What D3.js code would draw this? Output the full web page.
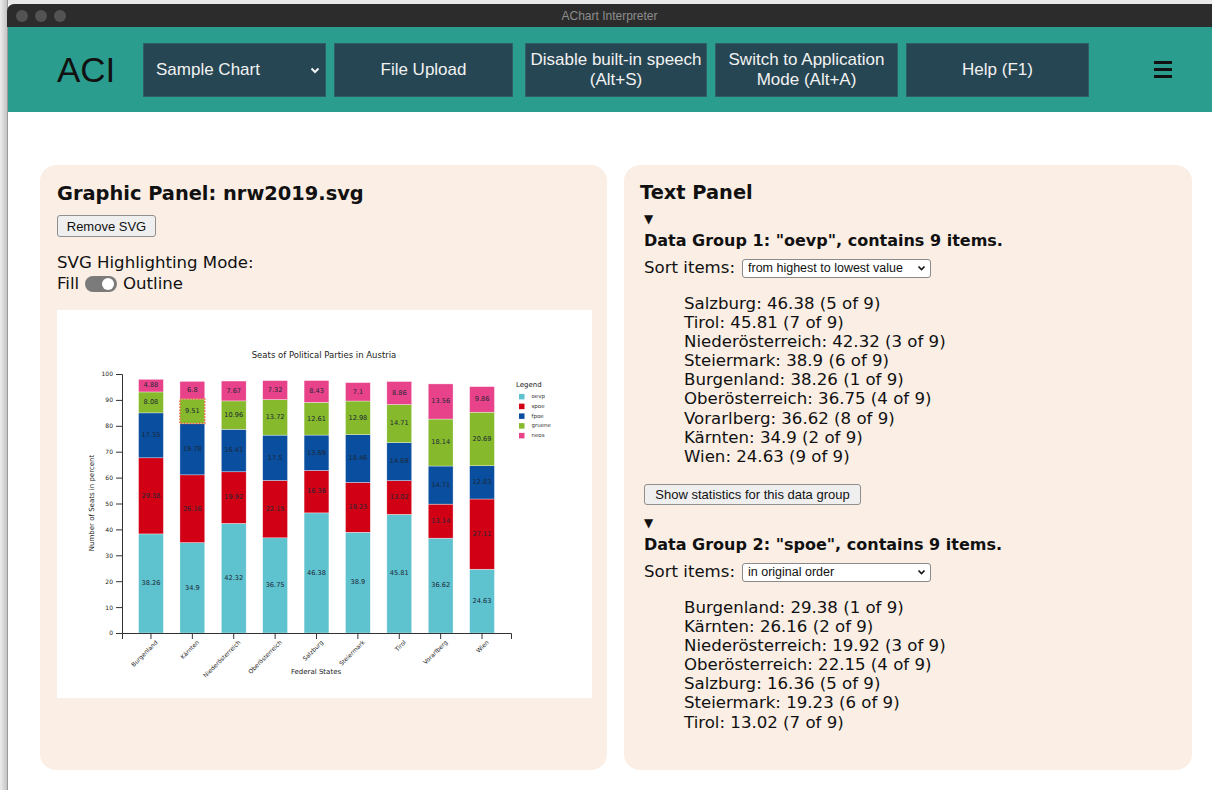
<!DOCTYPE html>
<html>
<head>
<meta charset="utf-8">
<script src="https://cdn.jsdelivr.net/npm/d3@7"></script>
<style>
  body { margin: 0; width: 1212px; height: 790px; position: relative; overflow: hidden; background: #fff; font-family: "DejaVu Sans", sans-serif; color: #111; }
  .abs { position: absolute; }
  #desk { left: 0; top: 0; width: 7px; height: 790px; background: linear-gradient(to right, #ececec, #c4c4c4); border-right: 1px solid #9a9a9a; }
  #desktop { left: 0; top: 0; width: 1212px; height: 4px; background: #e9e9e9; }
  #titlebar { left: 7px; top: 4px; width: 1205px; height: 23px; background: #2c2c2c; border-radius: 7px 0 0 0; }
  .dot { position: absolute; top: 6px; width: 12px; height: 12px; border-radius: 6px; background: #535353; }
  #wintitle { left: 7px; width: 1205px; top: 9px; height: 16px; line-height: 16px; text-align: center; color: #8d8d8d; font: 12px "Liberation Sans", sans-serif; }
  #header { left: 8px; top: 27px; width: 1204px; height: 85px; background: #2a9d8f; }
  #logo { left: 57px; top: 48px; font: 35px "Liberation Sans", sans-serif; color: #111; line-height: 44px; }
  .hbtn { position: absolute; top: 43px; height: 54px; background: #264653; border: 1px solid #2f5f6b; box-sizing: border-box; color: #f2f2f2; font: 17px "Liberation Sans", sans-serif; display: flex; align-items: center; justify-content: center; text-align: center; line-height: 20px; }
  .burger { position: absolute; left: 1154px; width: 18px; height: 3px; background: #111; }
  .panel { position: absolute; top: 165px; height: 605px; background: #faeee5; border-radius: 16px; }
  .line { position: absolute; white-space: nowrap; }
  .sysbtn { position: absolute; background: #efefef; border: 1px solid #8f8f8f; border-radius: 3px; box-sizing: border-box; font: 13px "Liberation Sans", sans-serif; display: flex; align-items: center; justify-content: center; color: #111; }
  .sel { position: absolute; background: #fff; border: 1px solid #8a8a8a; border-radius: 3px; box-sizing: border-box; font: 12.5px "Liberation Sans", sans-serif; padding-left: 5px; line-height: 17px; color: #111; }
  .chev { position: absolute; }
  #chartbox { position: absolute; left: 57px; top: 310px; width: 535px; height: 388px; background: #fff; }
  .list { position: absolute; left: 684px; font-size: 16.6px; line-height: 19.1px; }
</style>
</head>
<body>
<div id="desktop" class="abs"></div>
<div id="desk" class="abs"></div>
<div id="titlebar" class="abs">
  <div class="dot" style="left:9px"></div>
  <div class="dot" style="left:28px"></div>
  <div class="dot" style="left:47px"></div>
</div>
<div id="wintitle" class="abs">AChart Interpreter</div>
<div id="header" class="abs"></div>
<div id="logo" class="abs">ACI</div>
<div class="hbtn" style="left:143px;width:183px;justify-content:flex-start;padding-left:12px">Sample Chart
  <svg class="chev" style="right:5px;top:23px" width="10" height="8"><polyline points="1.5,1.5 5,5 8.5,1.5" fill="none" stroke="#f2f2f2" stroke-width="2"/></svg></div>
<div class="hbtn" style="left:334px;width:179px">File Upload</div>
<div class="hbtn" style="left:525px;width:182px">Disable built-in speech<br>(Alt+S)</div>
<div class="hbtn" style="left:715px;width:183px">Switch to Application<br>Mode (Alt+A)</div>
<div class="hbtn" style="left:906px;width:183px">Help (F1)</div>
<div class="burger" style="top:61px"></div>
<div class="burger" style="top:68px"></div>
<div class="burger" style="top:75px"></div>

<div class="panel" style="left:40px;width:567px"></div>
<div class="panel" style="left:624px;width:568px"></div>

<div class="line" style="left:57px;top:182px;font-size:19.4px;font-weight:bold;line-height:24px">Graphic Panel: nrw2019.svg</div>
<div class="sysbtn" style="left:57px;top:215px;width:99px;height:22px">Remove SVG</div>
<div class="line" style="left:57px;top:253px;font-size:16.6px;line-height:20px">SVG Highlighting Mode:</div>
<div class="line" style="left:57px;top:274px;font-size:16.6px;line-height:20px">Fill</div>
<div class="abs" style="left:85px;top:276px;width:32px;height:16px;border-radius:8px;background:#7b7b7b"></div>
<div class="abs" style="left:102px;top:278px;width:12px;height:12px;border-radius:6px;background:#fff"></div>
<div class="line" style="left:123px;top:274px;font-size:16.6px;line-height:20px">Outline</div>
<div id="chartbox"><svg id="chart" width="535" height="388"></svg></div>

<div id="textpanel"></div>

<script>
// ## DATA ##
const states = ['Burgenland', 'Kärnten', 'Niederösterreich', 'Oberösterreich', 'Salzburg', 'Steiermark', 'Tirol', 'Vorarlberg', 'Wien']
const parties = ['oevp', 'spoe', 'fpoe', 'gruene', 'neos']
const oevp = [38.26, 34.9, 42.32, 36.75, 46.38, 38.9, 45.81, 36.62, 24.63]
const spoe = [29.38, 26.16, 19.92, 22.15, 16.36, 19.23, 13.02, 13.14, 27.11]
const fpoe = [17.35, 19.78, 16.41, 17.5, 13.69, 18.46, 14.69, 14.71, 12.83]
const gruene = [8.08, 9.51, 10.96, 13.72, 12.61, 12.98, 14.71, 18.14, 20.69]
const neos = [4.88, 6.8, 7.67, 7.32, 8.43, 7.1, 8.86, 13.56, 9.86]
const yTicks = [0, 10, 20, 30, 40, 50, 60, 70, 80, 90, 100]
const partyColors = ['#5ec2cf', '#d10014', '#0a4e9f', '#86b92b', '#e8428a']

const series = { oevp, spoe, fpoe, gruene, neos }
const rows = states.map((state, i) => {
  const row = { state: state }
  parties.forEach(p => { row[p] = series[p][i] })
  return row
})

// ## CHART ##
const svg = d3.select('#chart')
const x = d3.scaleBand().domain(states).range([65, 454]).paddingInner(0.4).paddingOuter(0.4)
const y = d3.scaleLinear().domain([0, 100]).range([323, 64])
const color = d3.scaleOrdinal().domain(parties).range(partyColors)
const stacked = d3.stack().keys(parties)(rows)

svg.append('text')
  .attr('x', 267).attr('y', 48)
  .attr('text-anchor', 'middle')
  .style('font-size', '8.5px').style('fill', '#222')
  .text('Seats of Political Parties in Austria')

const layers = svg.selectAll('.layer').data(stacked)
  .enter().append('g')
  .attr('class', 'layer')
  .attr('fill', d => color(d.key))

layers.selectAll('rect').data(d => d)
  .enter().append('rect')
  .attr('x', d => x(d.data.state))
  .attr('y', d => y(d[1]))
  .attr('width', x.bandwidth())
  .attr('height', d => y(d[0]) - y(d[1]))
  .attr('stroke', '#fff').attr('stroke-width', 0.5).attr('stroke-opacity', 0.7)

layers.each(function(layer) {
  d3.select(this).selectAll('text').data(layer)
    .enter().append('text')
    .attr('x', d => x(d.data.state) + x.bandwidth() / 2)
    .attr('y', d => (y(d[0]) + y(d[1])) / 2)
    .attr('text-anchor', 'middle')
    .attr('dominant-baseline', 'middle')
    .style('font-size', '6.6px').style('fill', '#1b2836')
    .text(d => d.data[layer.key])
})

// highlighted element (outline mode)
const hl = stacked.find(s => s.key === 'gruene')[1]
svg.append('rect')
  .attr('x', x(hl.data.state))
  .attr('y', y(hl[1]))
  .attr('width', x.bandwidth())
  .attr('height', y(hl[0]) - y(hl[1]))
  .attr('fill', 'none')
  .attr('stroke', '#f0603c').attr('stroke-width', 1.5)
  .attr('stroke-dasharray', '1.5,1.5')

const yAxisGroup = svg.append('g')
  .attr('transform', 'translate(65,0)')
  .call(d3.axisLeft(y).tickValues(yTicks))
yAxisGroup.selectAll('text').style('font-size', '6px').style('font-family', 'DejaVu Sans').style('fill', '#222')
yAxisGroup.selectAll('path, line').attr('stroke', '#333')

const xAxisGroup = svg.append('g')
  .attr('transform', 'translate(0,323)')
  .call(d3.axisBottom(x))
xAxisGroup.selectAll('text')
  .style('font-size', '6px').style('font-family', 'DejaVu Sans').style('fill', '#222')
  .attr('text-anchor', 'end')
  .attr('dx', '-0.3em').attr('dy', '0.5em')
  .attr('transform', 'rotate(-45)')
xAxisGroup.selectAll('path, line').attr('stroke', '#333')

svg.append('text')
  .attr('transform', 'rotate(-90)')
  .attr('x', -193).attr('y', 37)
  .attr('text-anchor', 'middle')
  .style('font-size', '7px').style('fill', '#222')
  .text('Number of Seats in percent')

svg.append('text')
  .attr('x', 259).attr('y', 364)
  .attr('text-anchor', 'middle')
  .style('font-size', '7px').style('fill', '#222')
  .text('Federal States')

const legend = svg.append('g')
legend.append('text')
  .attr('x', 459).attr('y', 77)
  .style('font-size', '7px').style('fill', '#222')
  .text('Legend')
const legendItems = legend.selectAll('.item').data(parties)
  .enter().append('g')
  .attr('class', 'item')
  .attr('transform', (d, i) => 'translate(462,' + (86.7 + i * 9.75) + ')')
legendItems.append('rect')
  .attr('x', 0).attr('y', -2.8).attr('width', 5.5).attr('height', 5.5)
  .attr('fill', d => color(d))
legendItems.append('text')
  .attr('x', 12.5).attr('y', 0)
  .attr('dominant-baseline', 'middle')
  .style('font-size', '5.5px').style('fill', '#333')
  .text(d => d)

// ## TEXT PANEL ##
const tp = d3.select('#textpanel')
const addLine = (left, top, txt, style) => tp.append('div')
  .attr('class', 'line')
  .attr('style', 'left:' + left + 'px;top:' + top + 'px;' + (style || ''))
  .text(txt)

addLine(640, 181, 'Text Panel', 'font-size:19.4px;font-weight:bold;line-height:24px')

// visible: the panel scrolls, only the first 7 entries of group 2 are in view
const groups = [
  { idx: 0, sortLabel: 'from highest to lowest value', sorted: true, top: 212, shown: 9 },
  { idx: 1, sortLabel: 'in original order', sorted: false, top: 516, shown: 7 }
]

groups.forEach(g => {
  const key = parties[g.idx]
  const vals = series[key]
  addLine(644, g.top, '▼', 'font-size:12px;line-height:14px')
  addLine(644, g.top + 19, 'Data Group ' + (g.idx + 1) + ': "' + key + '", contains ' + vals.length + ' items.', 'font-size:16px;font-weight:bold;line-height:20px')
  addLine(644, g.top + 46, 'Sort items:', 'font-size:16.6px;line-height:20px')
  const sel = tp.append('div').attr('class', 'sel')
    .attr('style', 'left:742px;top:' + (g.top + 47) + 'px;width:189px;height:19px')
    .text(g.sortLabel)
  sel.append('svg').attr('class', 'chev')
    .attr('style', 'right:4px;top:5px').attr('width', 9).attr('height', 7)
    .append('polyline').attr('points', '1.5,1.5 4.5,4.5 7.5,1.5')
    .attr('fill', 'none').attr('stroke', '#111').attr('stroke-width', 1.6)
  let items = states.map((s, i) => ({ state: s, value: vals[i], pos: i + 1 }))
  if (g.sorted) items = items.slice().sort((a, b) => b.value - a.value)
  const list = tp.append('div').attr('class', 'list')
    .attr('style', 'top:' + (g.top + 82) + 'px')
  list.selectAll('div').data(items.slice(0, g.shown))
    .enter().append('div')
    .text(d => d.state + ': ' + d.value + ' (' + d.pos + ' of ' + vals.length + ')')
})

tp.append('div').attr('class', 'sysbtn')
  .attr('style', 'left:644px;top:484px;width:217px;height:21px')
  .text('Show statistics for this data group')
</script>
</body>
</html>
